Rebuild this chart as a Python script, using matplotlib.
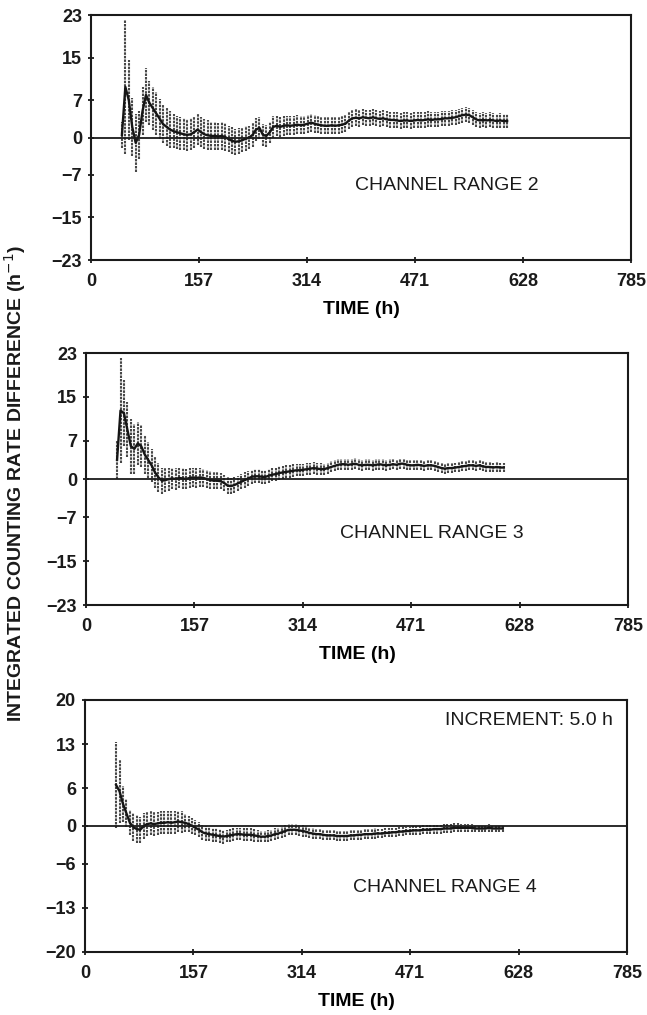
import numpy as np
import matplotlib
matplotlib.use("Agg")
import matplotlib.pyplot as plt

# time grid, one point per 5.0 h increment
time_h = np.arange(45, 610, 5)

# channel range 2 (top)
range2 = [0.5, 9.5, 7.0, 2.0, -1.0, 0.5, 5.0, 8.0, 6.5, 5.5,
          4.5, 3.5, 2.5, 2.0, 1.5, 1.2, 1.0, 0.8, 0.6, 0.5,
          0.6, 1.0, 1.5, 1.0, 0.6, 0.4, 0.3, 0.3, 0.2, 0.3,
          0.1, -0.3, -0.6, -0.8, -0.7, -0.5, -0.2, 0.0, 0.5, 1.5,
          1.8, 0.5, 0.3, 1.0, 2.0, 2.2, 2.0, 2.2, 2.3, 2.2,
          2.3, 2.4, 2.3, 2.4, 2.6, 2.8, 2.6, 2.4, 2.3, 2.2,
          2.2, 2.3, 2.2, 2.3, 2.4, 2.6, 3.2, 3.6, 3.7, 3.6,
          3.8, 3.7, 3.6, 3.8, 3.6, 3.5, 3.6, 3.4, 3.3, 3.3,
          3.2, 3.1, 3.2, 3.2, 3.1, 3.2, 3.3, 3.2, 3.3, 3.4,
          3.3, 3.4, 3.4, 3.5, 3.6, 3.6, 3.7, 3.8, 4.0, 4.2,
          4.3, 4.2, 3.8, 3.4, 3.2, 3.3, 3.2, 3.3, 3.2, 3.1,
          3.2, 3.1, 3.1]
err2 = [2.5, 12.5, 7.5, 5.5, 5.5, 4.5, 4.5, 5.0, 4.2, 4.0,
        4.0, 3.8, 3.6, 3.5, 3.4, 3.2, 3.1, 3.1, 3.0, 3.0,
        3.0, 2.9, 2.9, 2.8, 2.8, 2.8, 2.7, 2.7, 2.6, 2.6,
        2.6, 2.5, 2.5, 2.4, 2.4, 2.3, 2.3, 2.2, 2.2, 2.2,
        2.1, 2.1, 2.0, 2.0, 2.0, 1.9, 1.9, 1.9, 1.8, 1.8,
        1.8, 1.8, 1.7, 1.7, 1.7, 1.7, 1.7, 1.6, 1.6, 1.6,
        1.6, 1.6, 1.6, 1.6, 1.6, 1.6, 1.6, 1.6, 1.6, 1.6,
        1.5, 1.5, 1.5, 1.5, 1.5, 1.5, 1.5, 1.5, 1.5, 1.5,
        1.5, 1.5, 1.5, 1.5, 1.5, 1.5, 1.5, 1.5, 1.5, 1.5,
        1.4, 1.4, 1.4, 1.4, 1.4, 1.4, 1.4, 1.4, 1.4, 1.4,
        1.4, 1.4, 1.4, 1.4, 1.4, 1.4, 1.4, 1.4, 1.4, 1.4,
        1.4, 1.4, 1.4]

# channel range 3 (middle)
range3 = [3.5, 12.5, 12.0, 9.0, 6.0, 5.5, 6.5, 6.0, 4.5, 3.5,
          2.5, 1.2, 0.3, -0.3, -0.2, 0.0, 0.1, 0.0, 0.2, 0.1,
          0.0, 0.2, 0.3, 0.2, 0.3, 0.2, 0.0, -0.2, -0.3, -0.3,
          -0.4, -0.7, -1.2, -1.3, -1.1, -0.8, -0.5, -0.2, 0.1, 0.4,
          0.5, 0.5, 0.4, 0.4, 0.6, 0.8, 0.9, 1.1, 1.2, 1.3,
          1.4, 1.5, 1.6, 1.6, 1.7, 1.8, 1.9, 2.0, 1.9, 1.8,
          1.8, 2.0, 2.2, 2.4, 2.6, 2.7, 2.7, 2.6, 2.7, 2.8,
          2.6, 2.5, 2.6, 2.6, 2.5, 2.6, 2.7, 2.6, 2.5, 2.6,
          2.7, 2.6, 2.8, 2.8, 2.6, 2.5, 2.5, 2.6, 2.5, 2.4,
          2.5, 2.5, 2.4, 2.2, 2.0, 1.9, 2.0, 2.0, 2.1, 2.2,
          2.3, 2.4, 2.5, 2.5, 2.4, 2.5, 2.3, 2.2, 2.2, 2.1,
          2.2, 2.1, 2.1]
err3 = [3.5, 9.5, 6.0, 5.0, 5.0, 4.5, 4.0, 3.8, 3.5, 3.3,
        3.0, 2.8, 2.6, 2.4, 2.2, 2.1, 2.0, 2.0, 1.9, 1.9,
        1.9, 1.8, 1.8, 1.8, 1.7, 1.7, 1.7, 1.6, 1.6, 1.6,
        1.5, 1.5, 1.5, 1.5, 1.4, 1.4, 1.4, 1.4, 1.4, 1.3,
        1.3, 1.3, 1.3, 1.3, 1.3, 1.2, 1.2, 1.2, 1.2, 1.2,
        1.2, 1.2, 1.1, 1.1, 1.1, 1.1, 1.1, 1.1, 1.1, 1.1,
        1.0, 1.0, 1.0, 1.0, 1.0, 1.0, 1.0, 1.0, 1.0, 1.0,
        1.0, 1.0, 1.0, 1.0, 1.0, 1.0, 1.0, 1.0, 1.0, 1.0,
        0.9, 0.9, 0.9, 0.9, 0.9, 0.9, 0.9, 0.9, 0.9, 0.9,
        0.9, 0.9, 0.9, 0.9, 0.9, 0.9, 0.9, 0.9, 0.9, 0.9,
        0.9, 0.9, 0.9, 0.9, 0.9, 0.9, 0.9, 0.9, 0.9, 0.9,
        0.9, 0.9, 0.9]

# channel range 4 (bottom)
range4 = [6.5, 5.5, 3.5, 2.0, 0.5, -0.2, -0.5, -0.6, 0.0, 0.3,
          0.4, 0.3, 0.4, 0.5, 0.5, 0.6, 0.5, 0.6, 0.7, 0.6,
          0.5, 0.3, 0.0, -0.3, -0.6, -1.0, -1.2, -1.3, -1.4, -1.5,
          -1.6, -1.7, -1.6, -1.5, -1.4, -1.3, -1.3, -1.4, -1.4, -1.4,
          -1.5, -1.6, -1.7, -1.7, -1.6, -1.5, -1.3, -1.2, -1.0, -0.8,
          -0.6, -0.6, -0.6, -0.7, -0.8, -0.9, -1.1, -1.2, -1.3, -1.3,
          -1.4, -1.5, -1.5, -1.5, -1.6, -1.6, -1.6, -1.6, -1.5, -1.5,
          -1.4, -1.4, -1.3, -1.3, -1.3, -1.2, -1.2, -1.2, -1.1, -1.1,
          -1.0, -1.0, -0.9, -0.9, -0.8, -0.8, -0.7, -0.7, -0.7, -0.6,
          -0.6, -0.6, -0.5, -0.5, -0.5, -0.4, -0.4, -0.4, -0.3, -0.3,
          -0.3, -0.3, -0.3, -0.3, -0.4, -0.4, -0.4, -0.4, -0.3, -0.4,
          -0.4, -0.4, -0.4]
err4 = [6.8, 5.0, 2.8, 2.2, 2.0, 2.2, 2.2, 2.1, 2.0, 1.9,
        1.9, 1.9, 1.8, 1.8, 1.8, 1.8, 1.8, 1.8, 1.7, 1.7,
        1.4, 1.3, 1.3, 1.2, 1.2, 1.2, 1.2, 1.1, 1.1, 1.1,
        1.1, 1.1, 1.0, 1.0, 1.0, 1.0, 1.0, 1.0, 1.0, 1.0,
        1.0, 1.0, 0.9, 0.9, 0.9, 0.9, 0.9, 0.9, 0.9, 0.9,
        0.9, 0.9, 0.9, 0.9, 0.9, 0.9, 0.8, 0.8, 0.8, 0.8,
        0.8, 0.8, 0.8, 0.8, 0.8, 0.8, 0.8, 0.8, 0.8, 0.8,
        0.8, 0.8, 0.8, 0.8, 0.8, 0.8, 0.7, 0.7, 0.7, 0.7,
        0.7, 0.7, 0.7, 0.7, 0.7, 0.7, 0.7, 0.7, 0.7, 0.7,
        0.7, 0.7, 0.7, 0.7, 0.7, 0.7, 0.7, 0.7, 0.7, 0.7,
        0.6, 0.6, 0.6, 0.6, 0.6, 0.6, 0.6, 0.6, 0.6, 0.6,
        0.6, 0.6, 0.6]

x_ticks = [0, 157, 314, 471, 628, 785]
y_ticks_23 = [-23, -15, -7, 0, 7, 15, 23]
y_ticks_20 = [-20, -13, -6, 0, 6, 13, 20]

panels = [
    (range2, err2, y_ticks_23, "CHANNEL RANGE 2", (517, -9.0)),
    (range3, err3, y_ticks_23, "CHANNEL RANGE 3", (501, -10.0)),
    (range4, err4, y_ticks_20, "CHANNEL RANGE 4", (521, -9.8)),
]
positions = [
    [0.1406, 0.7438, 0.8346, 0.2414],
    [0.1329, 0.4039, 0.8377, 0.2483],
    [0.1314, 0.0621, 0.8377, 0.2483],
]

plt.rcParams['font.family'] = ['Liberation Sans', 'DejaVu Sans']

fig = plt.figure(figsize=(6.47, 10.15), dpi=100)

axes = []
for (vals, errs, yt, label, (lx, ly)), pos in zip(panels, positions):
    ax = fig.add_axes(pos)
    vals = np.array(vals)
    errs = np.array(errs)
    # error bars drawn as short dotted verticals, running value on top
    ax.vlines(time_h, vals - errs, vals + errs, colors='#474747',
              linewidth=1.5, linestyles=(0, (1.2, 0.5)))
    ax.plot(time_h, vals, color='#151515', linewidth=1.7)
    ax.axhline(0, color='#1a1a1a', linewidth=1.3)

    ax.set_xlim(0, 785)
    ax.set_ylim(yt[0], yt[-1])
    ax.set_xticks(x_ticks)
    ax.set_yticks(yt)
    ax.tick_params(axis='both', labelsize=13, width=1.3, length=5,
                   direction='inout', colors='#1a1a1a')
    ax.tick_params(axis='x', pad=7)
    ax.tick_params(axis='y', pad=4)
    for lab in ax.get_xticklabels() + ax.get_yticklabels():
        lab.set_fontweight('bold')
    for sp in ax.spines.values():
        sp.set_linewidth(1.5)
        sp.set_color('#1a1a1a')

    ax.set_xlabel("TIME (h)", fontsize=14, fontweight='bold', labelpad=8)
    ax.text(lx, ly, label, fontsize=14, ha='center', va='center',
            color='#1a1a1a')
    axes.append(ax)

axes[2].text(765, 16.7, "INCREMENT: 5.0 h", fontsize=14, ha='right',
             va='center', color='#1a1a1a')

fig.text(0.023, 0.524, "INTEGRATED COUNTING RATE DIFFERENCE (h$^{-1}$)",
         rotation=90, ha='center', va='center', fontsize=14,
         fontweight='bold', color='#1a1a1a')

plt.savefig('out.png', dpi=100)
